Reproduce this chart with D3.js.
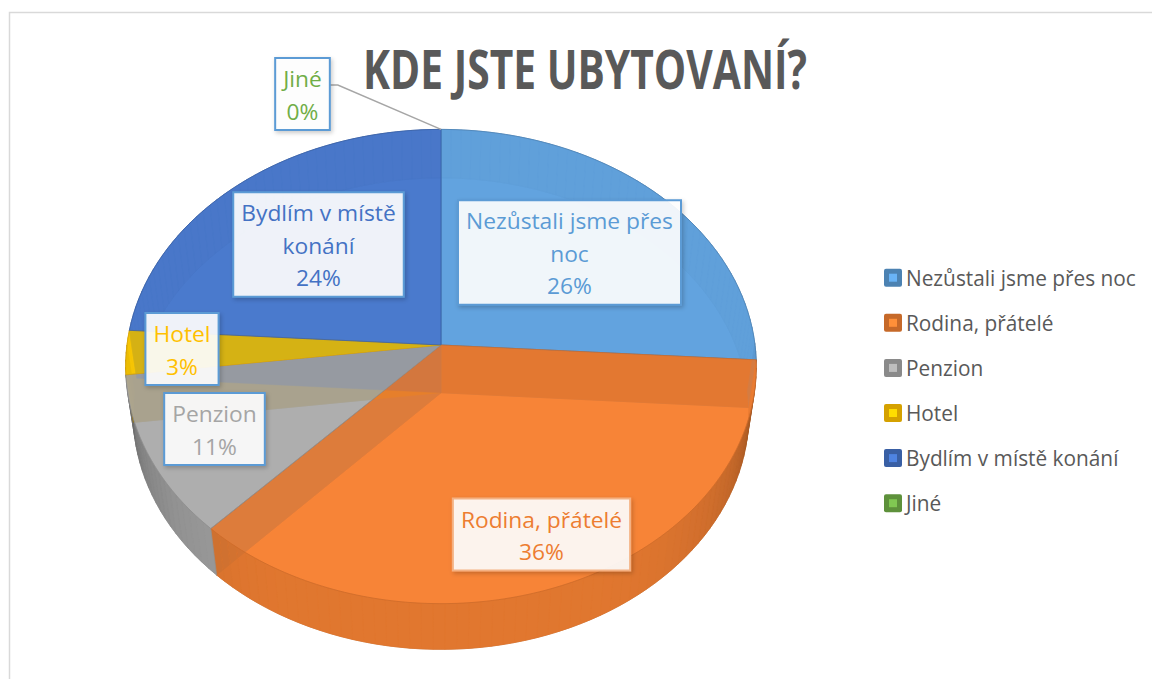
<!DOCTYPE html>
<html>
<head>
<meta charset="utf-8">
<script src="https://cdn.jsdelivr.net/npm/d3@7"></script>
<style>
body { margin: 0; background: #fff; }
svg { display: block; font-family: "Open Sans", sans-serif; }
</style>
</head>
<body>
<div id="chart"></div>
<script>
// data
var title = "KDE JSTE UBYTOVANÍ?";
var categories = ["Nezůstali jsme přes noc", "Rodina, přátelé", "Penzion", "Hotel", "Bydlím v místě konání", "Jiné"];
var values = [26, 36, 11, 3, 24, 0];
var labelLines = [["Nezůstali jsme přes", "noc"], ["Rodina, přátelé"], ["Penzion"], ["Hotel"], ["Bydlím v místě", "konání"], ["Jiné"]];

// styles / layout
var colors = ["#5B9BD5", "#ED7D31", "#A5A5A5", "#FFC000", "#4472C4", "#70AD47"];
var labelPos = [[569.5, 252.5], [541.5, 534.5], [214.5, 429], [182, 349], [318.5, 244.5], [302.5, 94]];
var labelStroke = ["#5B9BD5", "#F4B183", "#5B9BD5", "#5B9BD5", "#5B9BD5", "#5B9BD5"];
var leader = [false, false, false, false, false, true];

var width = 1152, height = 679;

var svg = d3.select("#chart").append("svg")
    .attr("width", width)
    .attr("height", height)

//chart border
svg.append("rect")
    .attr("x", 9.5).attr("y", 12.5)
    .attr("width", 1200).attr("height", 700)
    .attr("fill", "#fff")
    .attr("stroke", "#D9D9D9")
    .attr("stroke-width", 1.5)

var defs = svg.append("defs")
var filt = defs.append("filter").attr("id", "shadow")
    .attr("x", "-20%").attr("y", "-20%").attr("width", "140%").attr("height", "140%")
filt.append("feDropShadow")
    .attr("dx", 1.5).attr("dy", 2).attr("stdDeviation", 2)
    .attr("flood-color", "#000").attr("flood-opacity", 0.22)

// 3d projection of the pie (perspective, tilted)
var cx = 441, cy = 345, R = 314, D = 7.3, thick = 0.235;
var tilt = 48.5 * Math.PI / 180;
var cosT = Math.cos(tilt), sinT = Math.sin(tilt);

function proj(a, r, y) {
    var x = r * Math.sin(a), z = -r * Math.cos(a);
    var w = y * sinT + z * cosT;
    var v = y * cosT - z * sinT;
    var k = D / (D - w);
    return [cx + R * x * k, cy - R * v * k];
}

function rim(a0, a1, y) {
    var n = Math.max(2, Math.ceil((a1 - a0) / (Math.PI / 180)));
    var pts = [];
    for (var i = 0; i <= n; i++) pts.push(proj(a0 + (a1 - a0) * i / n, 1, y));
    return pts;
}

var line = d3.line();
var pie = d3.pie().sort(null).value(function (d) { return d; });
var arcs = pie(values);

var g = svg.append("g")

//bottom faces
arcs.forEach(function (d, i) {
    if (d.endAngle - d.startAngle <= 0) return;
    var pts = [proj(0, 0, -thick)].concat(rim(d.startAngle, d.endAngle, -thick));
    g.append("path")
        .attr("d", line(pts) + "Z")
        .attr("fill", d3.color(colors[i]).darker(0.2))
        .attr("fill-opacity", 0.9)
        .attr("stroke", d3.color(colors[i]).darker(0.9))
        .attr("stroke-opacity", 0.5)
        .attr("stroke-width", 1)
})

//outer walls split in small pieces
var walls = [];
arcs.forEach(function (d, i) {
    var span = d.endAngle - d.startAngle;
    if (span <= 0) return;
    var n = Math.max(1, Math.ceil(span / (2 * Math.PI / 180)));
    for (var j = 0; j < n; j++) {
        var a = d.startAngle + span * j / n, b = d.startAngle + span * (j + 1) / n;
        var m = (a + b) / 2;
        walls.push({i: i, a: a, b: b, facing: -Math.cos(m)});
    }
})
function wallPath(w) {
    var pts = [proj(w.a, 1, 0), proj(w.b, 1, 0), proj(w.b, 1, -thick), proj(w.a, 1, -thick)];
    return line(pts) + "Z";
}

walls.filter(function (w) { return w.facing < 0; }).forEach(function (w) {
    g.append("path")
        .attr("d", wallPath(w))
        .attr("fill", d3.color(colors[w.i]).darker(0.6))
        .attr("fill-opacity", 0.9)
        .attr("stroke", d3.color(colors[w.i]).darker(0.6))
        .attr("stroke-width", 0.6)
})

//cut walls in series order
arcs.forEach(function (d, i) {
    if (d.endAngle - d.startAngle <= 0) return;
    [d.startAngle, d.endAngle].forEach(function (a) {
        var pts = [proj(a, 0, 0), proj(a, 1, 0), proj(a, 1, -thick), proj(a, 0, -thick)];
        g.append("path")
            .attr("d", line(pts) + "Z")
            .attr("fill", d3.color(colors[i]).darker(1.6))
            .attr("fill-opacity", 0.9)
            .attr("stroke", d3.color(colors[i]).darker(1.6))
            .attr("stroke-opacity", 0.4)
    })
})

//front walls
walls.filter(function (w) { return w.facing >= 0; }).forEach(function (w) {
    var dk = 0.15 + 1.4 * Math.pow(1 - w.facing, 2);
    var c = d3.color(colors[w.i]).darker(dk);
    g.append("path")
        .attr("d", wallPath(w))
        .attr("fill", c)
        .attr("fill-opacity", 0.92)
        .attr("stroke", c)
        .attr("stroke-width", 0.6)
})

//top faces
arcs.forEach(function (d, i) {
    if (d.endAngle - d.startAngle <= 0) return;
    var pts = [proj(0, 0, 0)].concat(rim(d.startAngle, d.endAngle, 0));
    g.append("path")
        .attr("d", line(pts) + "Z")
        .attr("fill", d3.color(colors[i]).brighter(0.18))
        .attr("fill-opacity", 0.8)
        .attr("stroke", d3.color(colors[i]).darker(0.4))
        .attr("stroke-width", 1)
        .attr("stroke-opacity", 0.8)
})

// text helpers
function textWidth(str, size, weight) {
    var t = svg.append("text").attr("font-size", size).attr("font-weight", weight || 400).text(str);
    var w = t.node().getComputedTextLength();
    t.remove();
    return w;
}

//title
var titleSize = 54;
var titleScale = 444 / textWidth(title, titleSize, 700);
svg.append("text")
    .attr("transform", "translate(585,89) scale(" + titleScale + ",1)")
    .attr("text-anchor", "middle")
    .attr("font-size", titleSize)
    .attr("font-weight", 700)
    .attr("fill", "#595959")
    .text(title)

//data labels
var labSize = 22, lineH = 32.5;
var labScale = 207 / textWidth(labelLines[0][0], labSize);
var total = d3.sum(values);

arcs.forEach(function (d, i) {
    var lines = labelLines[i].concat([Math.round(values[i] / total * 100) + "%"]);
    var maxW = d3.max(lines, function (s) { return textWidth(s, labSize); }) * labScale;
    var bw = maxW + 16, bh = lines.length * lineH + 7;
    var bx = labelPos[i][0] - bw / 2, by = labelPos[i][1] - bh / 2;

    if (leader[i]) {
        var mid = (d.startAngle + d.endAngle) / 2;
        var p = proj(mid, 1, 0);
        svg.append("path")
            .attr("d", line([[bx + bw, labelPos[i][1] - 9], [bx + bw + 8, labelPos[i][1] - 9], p]))
            .attr("fill", "none")
            .attr("stroke", "#A6A6A6")
            .attr("stroke-width", 1.5)
    }

    svg.append("rect")
        .attr("x", bx).attr("y", by)
        .attr("width", bw).attr("height", bh)
        .attr("fill", "#fff")
        .attr("fill-opacity", 0.9)
        .attr("stroke", labelStroke[i])
        .attr("stroke-width", 2)
        .attr("filter", "url(#shadow)")

    lines.forEach(function (s, k) {
        svg.append("text")
            .attr("transform", "translate(" + labelPos[i][0] + "," + (by + 29 + k * lineH) + ") scale(" + labScale + ",1)")
            .attr("text-anchor", "middle")
            .attr("font-size", labSize)
            .attr("fill", colors[i])
            .text(s)
    })
})

//legend
var legSize = 22;
var legScale = 230 / textWidth(categories[0], legSize);
var leg = svg.append("g").selectAll("g")
    .data(categories)
    .enter().append("g")
    .attr("transform", function (d, i) { return "translate(884," + (277.7 + i * 45.1) + ")"; })

leg.append("rect")
    .attr("x", 0).attr("y", -9)
    .attr("width", 18).attr("height", 18)
    .attr("rx", 2)
    .attr("fill", function (d, i) { return d3.color(colors[i]).darker(0.5); })
leg.append("rect")
    .attr("x", 5).attr("y", -4)
    .attr("width", 8).attr("height", 8)
    .attr("fill", function (d, i) { return d3.color(colors[i]).brighter(0.4); })
leg.append("text")
    .attr("transform", "translate(22,8) scale(" + legScale + ",1)")
    .attr("font-size", legSize)
    .attr("fill", "#595959")
    .text(function (d) { return d; })
</script>
</body>
</html>
